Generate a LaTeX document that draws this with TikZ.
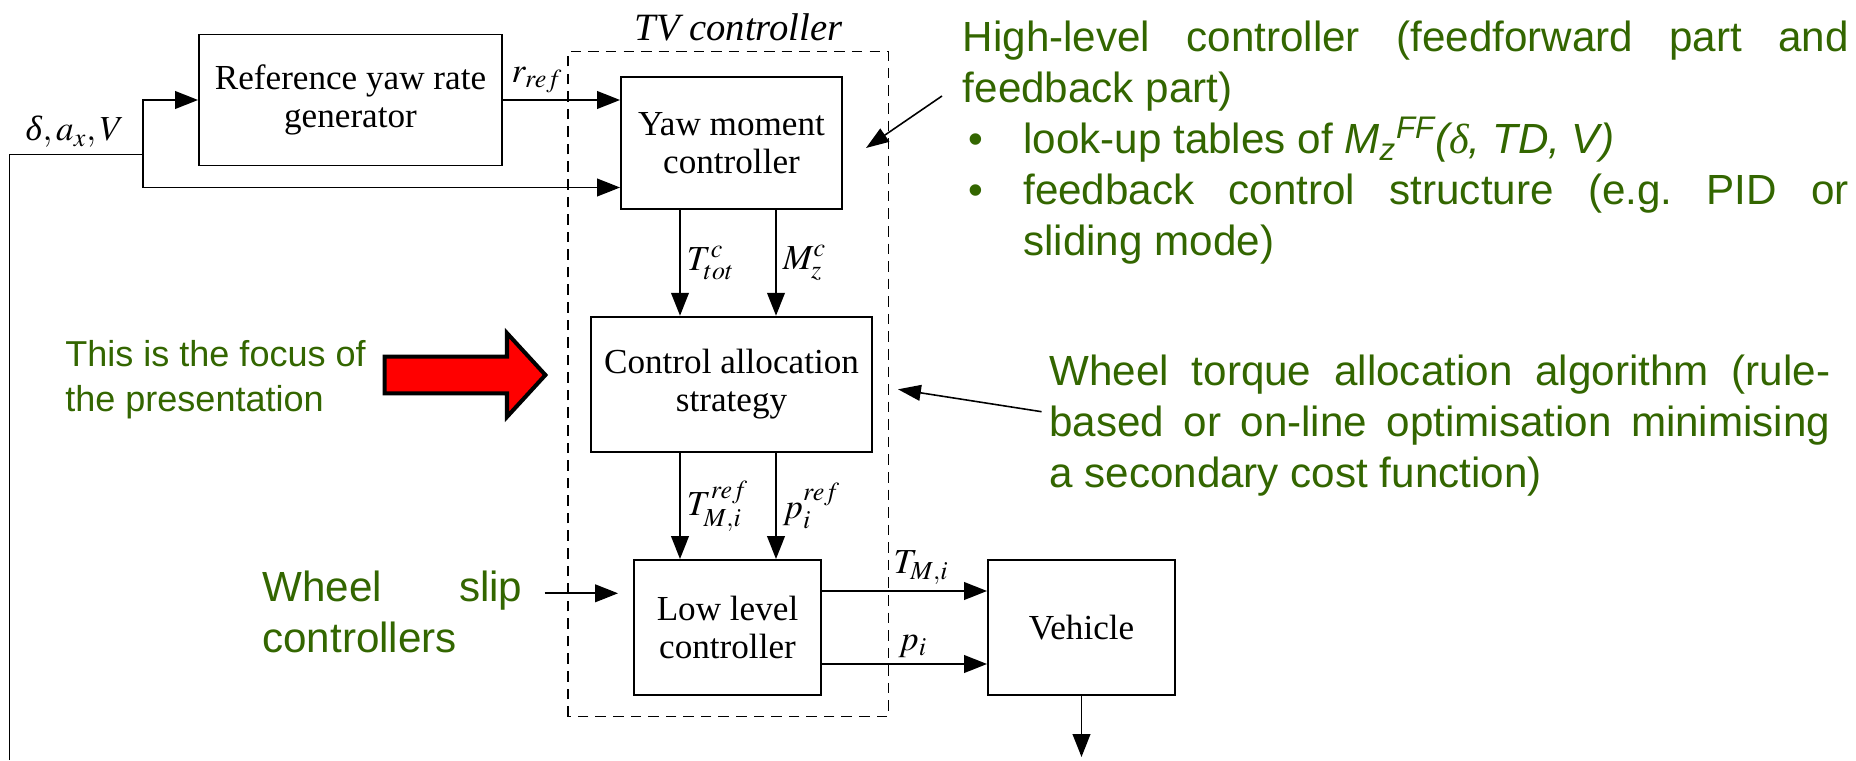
\documentclass[tikz,border=0pt]{standalone}
\usepackage{mathptmx}
\usepackage{fontspec}
\setmainfont{Liberation Serif}
\newfontfamily\arialfont{Liberation Sans}
\usetikzlibrary{arrows.meta}
\definecolor{notegreen}{RGB}{51,102,0}

\begin{document}
\begin{tikzpicture}[
    block/.style={draw, line width=1.1pt, align=center, font=\fontsize{20}{22}\selectfont},
    sig/.style={font=\fontsize{20}{24}\selectfont},
    note/.style={font=\arialfont\fontsize{24}{29}\selectfont, text=notegreen, inner sep=0pt},
    arr/.style={-{Triangle[length=13pt, width=10pt]}, line width=1.1pt},
    ann/.style={-{Triangle[length=13pt, width=9pt]}, line width=0.9pt},
    tvframe/.style={draw, line width=0.9pt, dash pattern=on 6pt off 4pt}
]
\useasboundingbox (0,0) rectangle (37.12,15.2);

% TV controller frame
\coordinate (tvsw) at (11.36,0.866);
\coordinate (tvne) at (17.77,14.166);
\draw[tvframe] (tvsw) rectangle (tvne);
\node[font=\itshape\fontsize{22}{26}\selectfont] (tvname) at (14.77,14.66) {TV controller};

% Blocks
\node[block, minimum width=6.06cm, minimum height=2.62cm] (ref) at (7.01,13.2) {Reference yaw rate\\generator};
\node[block, minimum width=4.42cm, minimum height=2.65cm] (yaw) at (14.63,12.34) {Yaw moment\\controller};
\node[block, minimum width=5.63cm, minimum height=2.7cm] (ca) at (14.63,7.516) {Control allocation\\strategy};
\node[block, minimum width=3.74cm, minimum height=2.7cm] (ll) at (14.55,2.65) {Low level\\controller};
\node[block, minimum width=3.74cm, minimum height=2.7cm] (veh) at (21.63,2.65) {Vehicle};

% Measured signals - feedback from the bottom
\coordinate (fb) at (0.19,0);
\coordinate (split) at (2.86,12.11);
\draw[line width=1.1pt] (fb) |- (split) node[sig, above, pos=0.745] {\textit{δ}$,a_x,V$};
\draw[arr] (split) |- (ref.west);
\draw[arr] (split) |- ([yshift=-0.89cm]yaw.west);
\draw[arr] (ref.east) -- (ref.east -| yaw.west) node[sig, above, pos=0.29] {$r_{ref}$};

% Yaw moment -> allocation -> low level
\draw[arr] ([xshift=-1.03cm]yaw.south) -- ([xshift=-1.03cm]yaw.south |- ca.north) node[sig, right, midway] {$T_{tot}^{c}$};
\draw[arr] ([xshift=0.89cm]yaw.south) -- ([xshift=0.89cm]yaw.south |- ca.north) node[sig, right, midway] {$M_z^{c}$};
\draw[arr] ([xshift=-1.03cm]ca.south) -- ([xshift=-1.03cm]ca.south |- ll.north) node[sig, right, midway] {$T_{M,i}^{ref}$};
\draw[arr] ([xshift=0.89cm]ca.south) -- ([xshift=0.89cm]ca.south |- ll.north) node[sig, right, midway] {$p_i^{ref}$};

% Low level -> vehicle
\draw[arr] ([yshift=0.73cm]ll.east) -- ([yshift=0.73cm]ll.east -| veh.west) node[sig, above, pos=0.6] {$T_{M,i}$};
\draw[arr] ([yshift=-0.73cm]ll.east) -- ([yshift=-0.73cm]ll.east -| veh.west) node[sig, above, pos=0.55] {$p_i$};
\coordinate (vout) at (21.63,0.06);
\draw[arr] (veh.south) -- (vout);

% Red block arrow
\draw[line width=2.3pt, fill=red] (7.692,7.334) -- (10.14,7.334) -- (10.14,6.863) -- (10.908,7.7)
    -- (10.14,8.537) -- (10.14,8.066) -- (7.692,8.066) -- cycle;

% Green notes
\node[note, anchor=north west, text width=17.72cm, align=justify] (hl) at (19.25,14.78) {%
\hyphenpenalty=10000 High-level controller (feedforward part and\linebreak feedback part)\par
\noindent\makebox[1.21cm][l]{\hspace{0.11cm}\textbullet}look-up tables of \textit{M\textsubscript{z}\textsuperscript{FF}({\rmfamily δ}, TD, V)}\par
\noindent\makebox[1.21cm][l]{\hspace{0.11cm}\textbullet}\parbox[t]{16.51cm}{\hyphenpenalty=10000 feedback control structure (e.g.\ PID or\linebreak sliding mode)}};
\node[note, anchor=west, text width=15.62cm, align=justify] (wt) at (20.98,6.68) {%
\hyphenpenalty=10000 Wheel torque allocation algorithm (rule-\linebreak based or on-line optimisation minimising\linebreak a secondary cost function)};
\node[note, anchor=west, text width=5.2cm, align=justify] (slip) at (5.24,2.96) {Wheel slip\linebreak controllers};
\node[note, font=\arialfont\fontsize{20.5}{25.6}\selectfont, anchor=west, align=left] (focus) at (1.3,7.6) {This is the focus of\\the presentation};

% Pointers from the notes
\coordinate (hlfrom) at (18.84,13.28);
\coordinate (hlto) at (17.32,12.24);
\draw[ann] (hlfrom) -- (hlto);
\coordinate (wtfrom) at (20.832,6.966);
\coordinate (wtto) at (17.96,7.414);
\draw[ann] (wtfrom) -- (wtto);
\coordinate (slipfrom) at (10.89,3.334);
\draw[arr, shorten >=0.3cm] (slipfrom) -- (slipfrom -| ll.west);

\end{tikzpicture}
\end{document}
